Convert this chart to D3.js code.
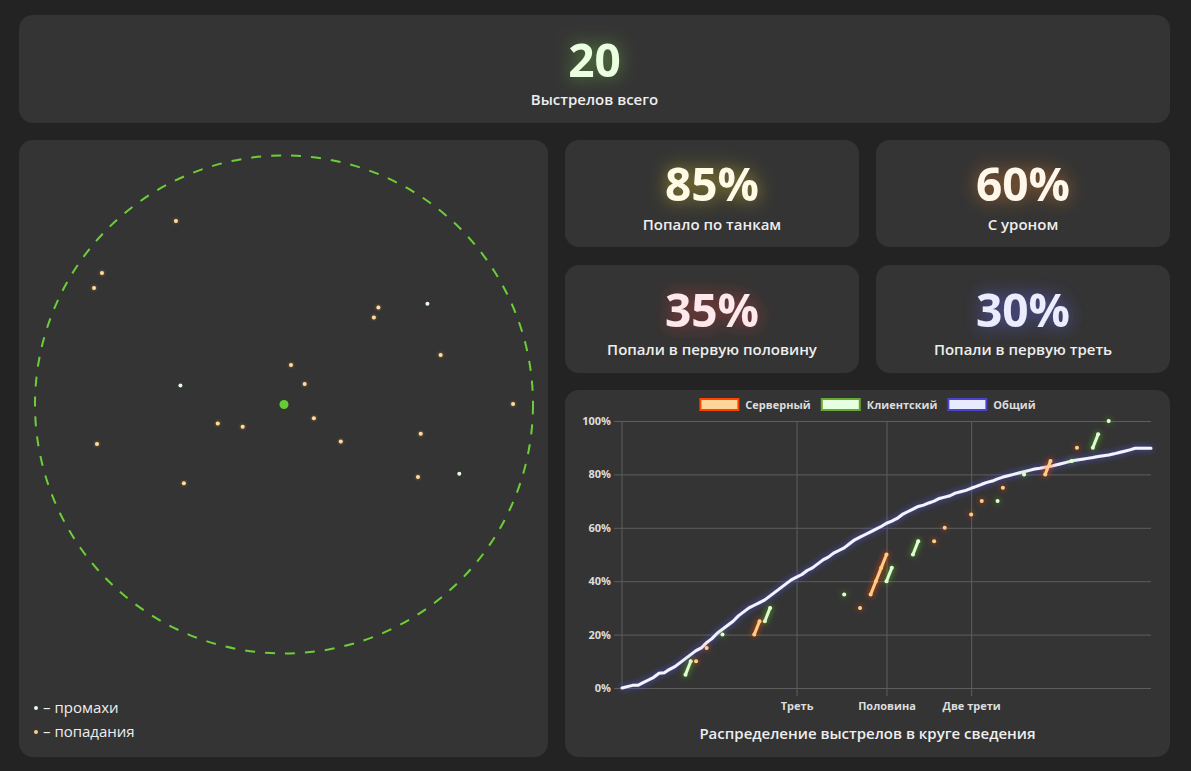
<!DOCTYPE html>
<html>
<head>
<meta charset="utf-8">
<script src="https://cdn.jsdelivr.net/npm/d3@7"></script>
<style>
  body { margin: 0; background: #232323; }
  svg { display: block; font-family: "Open Sans", "Noto Sans", sans-serif; }
</style>
</head>
<body>
<svg id="board" width="1191" height="771"></svg>
<script>
// Shots relative to the aim circle: dx, dy in circle radii (y goes down), hit flag
const shots = [
  [-0.434, -0.737, 1], [-0.731, -0.528, 1], [-0.763, -0.468, 1], [0.379, -0.390, 1],
  [0.361, -0.349, 1], [0.576, -0.405, 0], [0.629, -0.199, 1], [0.028, -0.159, 1],
  [0.083, -0.082, 1], [-0.416, -0.076, 0], [0.920, -0.002, 1], [0.120, 0.055, 1],
  [-0.266, 0.076, 1], [-0.166, 0.089, 1], [0.549, 0.117, 1], [0.228, 0.149, 1],
  [-0.751, 0.159, 1], [0.704, 0.278, 0], [0.538, 0.291, 1], [-0.402, 0.316, 1]
];

const totalCount = "20";
const totalLabel = "Выстрелов всего";
const statValues = ["85%", "60%", "35%", "30%"];
const statLabels = ["Попало по танкам", "С уроном", "Попали в первую половину", "Попали в первую треть"];

// Distribution chart: x is index 0..100 along the circle radius
const xTickValues = [33, 50, 66];
const xTickLabels = ["Треть", "Половина", "Две трети"];
const yTickValues = [0, 20, 40, 60, 80, 100];
const seriesNames = ["Серверный", "Клиентский", "Общий"];

// [index, percent]
const serverPoints = [
  [14, 10], [16, 15], [25, 20], [26, 25], [45, 30], [47, 35], [48, 40], [49, 45], [50, 50],
  [59, 55], [61, 60], [66, 65], [68, 70], [72, 75], [80, 80], [81, 85], [86, 90]
];
const clientPoints = [
  [12, 5], [13, 10], [19, 20], [27, 25], [28, 30], [42, 35], [50, 40], [51, 45],
  [55, 50], [56, 55], [71, 70], [76, 80], [85, 85], [89, 90], [90, 95], [92, 100]
];
const totalValues = [
  0, 0.5, 1, 1, 2, 3, 4, 5.5, 5.7, 7,
  8, 9.5, 11, 12.5, 14, 15, 17, 18.5, 20.5, 22,
  23.5, 25, 27, 28.5, 30, 31, 32, 33, 34.5, 36,
  37.5, 39, 40.5, 41.5, 42.5, 44, 45, 46.5, 48, 49,
  50.5, 51.5, 52.5, 54, 55.5, 56.5, 57.5, 58.5, 59.5, 60.5,
  61.7, 62.5, 63.5, 65, 66, 67, 68, 68.5, 69.3, 70,
  71, 71.5, 72, 73, 73.5, 74, 74.8, 75.5, 76.3, 77,
  77.5, 78.3, 79, 79.5, 80, 80.5, 81, 81.5, 82, 82.3,
  82.7, 83, 83.5, 84, 84.5, 85, 85.4, 85.7, 86, 86.3,
  86.7, 87, 87.3, 87.7, 88.2, 88.7, 89.2, 89.8, 89.8, 89.8,
  89.8
];

const svg = d3.select("#board");
const defs = svg.append("defs");

// Soft coloured glow used for numbers and lines
function glow(id, color, blur, opacity) {
  const f = defs.append("filter").attr("id", id)
      .attr("x", "-50%").attr("y", "-50%").attr("width", "200%").attr("height", "200%");
  f.append("feFlood").attr("flood-color", color).attr("flood-opacity", opacity).attr("result", "c");
  f.append("feComposite").attr("in", "c").attr("in2", "SourceAlpha").attr("operator", "in").attr("result", "s");
  f.append("feGaussianBlur").attr("in", "s").attr("stdDeviation", blur).attr("result", "b");
  const m = f.append("feMerge");
  m.append("feMergeNode").attr("in", "b");
  m.append("feMergeNode").attr("in", "SourceGraphic");
}
glow("gGreen", "#7fd04a", 9, 0.55);
glow("gYellow", "#c9b22a", 9, 0.7);
glow("gOrange", "#c9722a", 9, 0.7);
glow("gRed", "#c03a3a", 9, 0.7);
glow("gBlue", "#5a5ad0", 9, 0.8);
glow("lBlue", "#5050e0", 3, 1);
glow("lRed", "#ff4400", 3, 1);
glow("lGreen", "#55bb22", 3, 1);
glow("dot", "#ff9944", 1.5, 0.6);

// Cards
const cardBoxes = [
  [19, 15, 1151, 108], [19, 140, 529, 617],
  [565, 140, 294, 107], [876, 140, 294, 107],
  [565, 265, 294, 108], [876, 265, 294, 108],
  [565, 390, 605, 367]
];
svg.selectAll("rect.card").data(cardBoxes).join("rect")
    .attr("class", "card")
    .attr("x", d => d[0]).attr("y", d => d[1])
    .attr("width", d => d[2]).attr("height", d => d[3])
    .attr("rx", 14).attr("fill", "#343434");

// Top counter
svg.append("text").attr("x", 594.5).attr("y", 77).attr("text-anchor", "middle")
    .attr("font-size", 46).attr("font-weight", 700).attr("fill", "#eaffe0")
    .attr("filter", "url(#gGreen)").text(totalCount);
svg.append("text").attr("x", 594.5).attr("y", 105).attr("text-anchor", "middle")
    .attr("font-size", 15).attr("font-weight", 600).attr("fill", "#eeeeee").text(totalLabel);

// Stat cards
const statCenters = [[712, 201, 230], [1023, 201, 230], [712, 327, 355], [1023, 327, 355]];
const statFill = ["#fffbe4", "#fff8ea", "#ffe8ec", "#ececff"];
const statGlow = ["gYellow", "gOrange", "gRed", "gBlue"];
statValues.forEach((v, i) => {
  const c = statCenters[i];
  svg.append("text").attr("x", c[0]).attr("y", c[1]).attr("text-anchor", "middle")
      .attr("font-size", 46).attr("font-weight", 700).attr("fill", statFill[i])
      .attr("filter", `url(#${statGlow[i]})`).text(v);
  svg.append("text").attr("x", c[0]).attr("y", c[2]).attr("text-anchor", "middle")
      .attr("font-size", 15).attr("font-weight", 600).attr("fill", "#eeeeee").text(statLabels[i]);
});

// Shot scatter
const cx = 284, cy = 404.5, R = 249;
const sx = d3.scaleLinear().domain([-1, 1]).range([cx - R, cx + R]);
const sy = d3.scaleLinear().domain([-1, 1]).range([cy - R, cy + R]);
svg.append("circle").attr("cx", sx(0)).attr("cy", sy(0)).attr("r", sx(1) - sx(0))
    .attr("fill", "none").attr("stroke", "#6ccf38").attr("stroke-width", 2)
    .attr("stroke-dasharray", "10 10");
svg.append("circle").attr("cx", sx(0)).attr("cy", sy(0)).attr("r", 4.5).attr("fill", "#66cc33");
svg.append("g").selectAll("circle").data(shots).join("circle")
    .attr("cx", d => sx(d[0])).attr("cy", d => sy(d[1])).attr("r", 2)
    .attr("fill", d => d[2] ? "#ffdd99" : "#e2ffe2")
    .attr("filter", d => d[2] ? "url(#dot)" : null);

// Scatter legend
const scLegend = [["#e2ffe2", "– промахи"], ["#ffcc88", "– попадания"]];
scLegend.forEach((d, i) => {
  svg.append("circle").attr("cx", 36).attr("cy", 708 + i * 24).attr("r", 2).attr("fill", d[0]);
  svg.append("text").attr("x", 43).attr("y", 713 + i * 24).attr("font-size", 15)
      .attr("fill", "#eeeeee").text(d[1]);
});

// Distribution chart
const x = d3.scaleLinear().domain([0, 100]).range([622, 1151]);
const y = d3.scaleLinear().domain([0, 100]).range([688, 421]);
const gridColor = "#5e5e5e";

const yAxis = svg.append("g").attr("transform", `translate(${x(100)},0)`)
    .call(d3.axisLeft(y).tickValues(yTickValues).tickSize(x(100) - x(0) + 8).tickPadding(3)
      .tickFormat(d => d + "%"));
yAxis.select(".domain").remove();
yAxis.selectAll("line").attr("stroke", gridColor);
yAxis.selectAll("text").attr("fill", "#dddddd").attr("font-size", 11).attr("font-weight", 700)
    .attr("font-family", "'Open Sans', sans-serif");

const xAxis = svg.append("g").attr("transform", `translate(0,${y(100)})`)
    .call(d3.axisBottom(x).tickValues(xTickValues).tickSize(y(0) - y(100) + 8).tickPadding(6)
      .tickFormat((d, i) => xTickLabels[i]));
xAxis.select(".domain").remove();
xAxis.selectAll("line").attr("stroke", gridColor);
xAxis.selectAll("text").attr("fill", "#dddddd").attr("font-size", 11).attr("font-weight", 700)
    .attr("font-family", "'Open Sans', sans-serif");
svg.append("line").attr("x1", x(0)).attr("x2", x(0)).attr("y1", y(100)).attr("y2", y(0))
    .attr("stroke", gridColor);

// Series: spread sparse points over all indices so gaps break the line
function spread(points) {
  const arr = d3.range(101).map(() => null);
  points.forEach(p => { arr[p[0]] = p[1]; });
  return arr;
}
const line = d3.line().defined(d => d != null).x((d, i) => x(i)).y(d => y(d));

const series = [
  { data: totalValues, stroke: "#f4f4ff", glow: "lBlue", dots: false },
  { data: spread(clientPoints), pts: clientPoints, stroke: "#ddffcc", glow: "lGreen", dots: true },
  { data: spread(serverPoints), pts: serverPoints, stroke: "#ffcc80", glow: "lRed", dots: true }
];
series.forEach(s => {
  const g = svg.append("g").attr("filter", `url(#${s.glow})`);
  g.append("path").attr("d", line(s.data)).attr("fill", "none")
      .attr("stroke", s.stroke).attr("stroke-width", 3)
      .attr("stroke-linejoin", "round").attr("stroke-linecap", "round");
  if (s.dots) {
    g.selectAll("circle").data(s.pts).join("circle")
        .attr("cx", d => x(d[0])).attr("cy", d => y(d[1])).attr("r", 2).attr("fill", s.stroke);
  }
});

// Chart legend
const legendFill = ["#ffd699", "#e6ffe0", "#e8eaff"];
const legendStroke = ["#ff4400", "#66aa33", "#4a44cc"];
const legend = svg.append("g");
let lx = 0;
seriesNames.forEach((name, i) => {
  const item = legend.append("g").attr("transform", `translate(${lx},0)`);
  item.append("rect").attr("x", 1).attr("y", 399).attr("width", 38).attr("height", 11)
      .attr("fill", legendFill[i]).attr("stroke", legendStroke[i]).attr("stroke-width", 2);
  const t = item.append("text").attr("x", 46).attr("y", 409).attr("font-size", 11)
      .attr("font-weight", 700).attr("fill", "#dddddd").text(name);
  lx += 46 + t.node().getComputedTextLength() + 10;
});
legend.attr("transform", `translate(${867.5 - (lx - 10) / 2},0)`);

svg.append("text").attr("x", 867.5).attr("y", 739).attr("text-anchor", "middle")
    .attr("font-size", 15).attr("font-weight", 600).attr("fill", "#eeeeee")
    .text("Распределение выстрелов в круге сведения");
</script>
</body>
</html>
